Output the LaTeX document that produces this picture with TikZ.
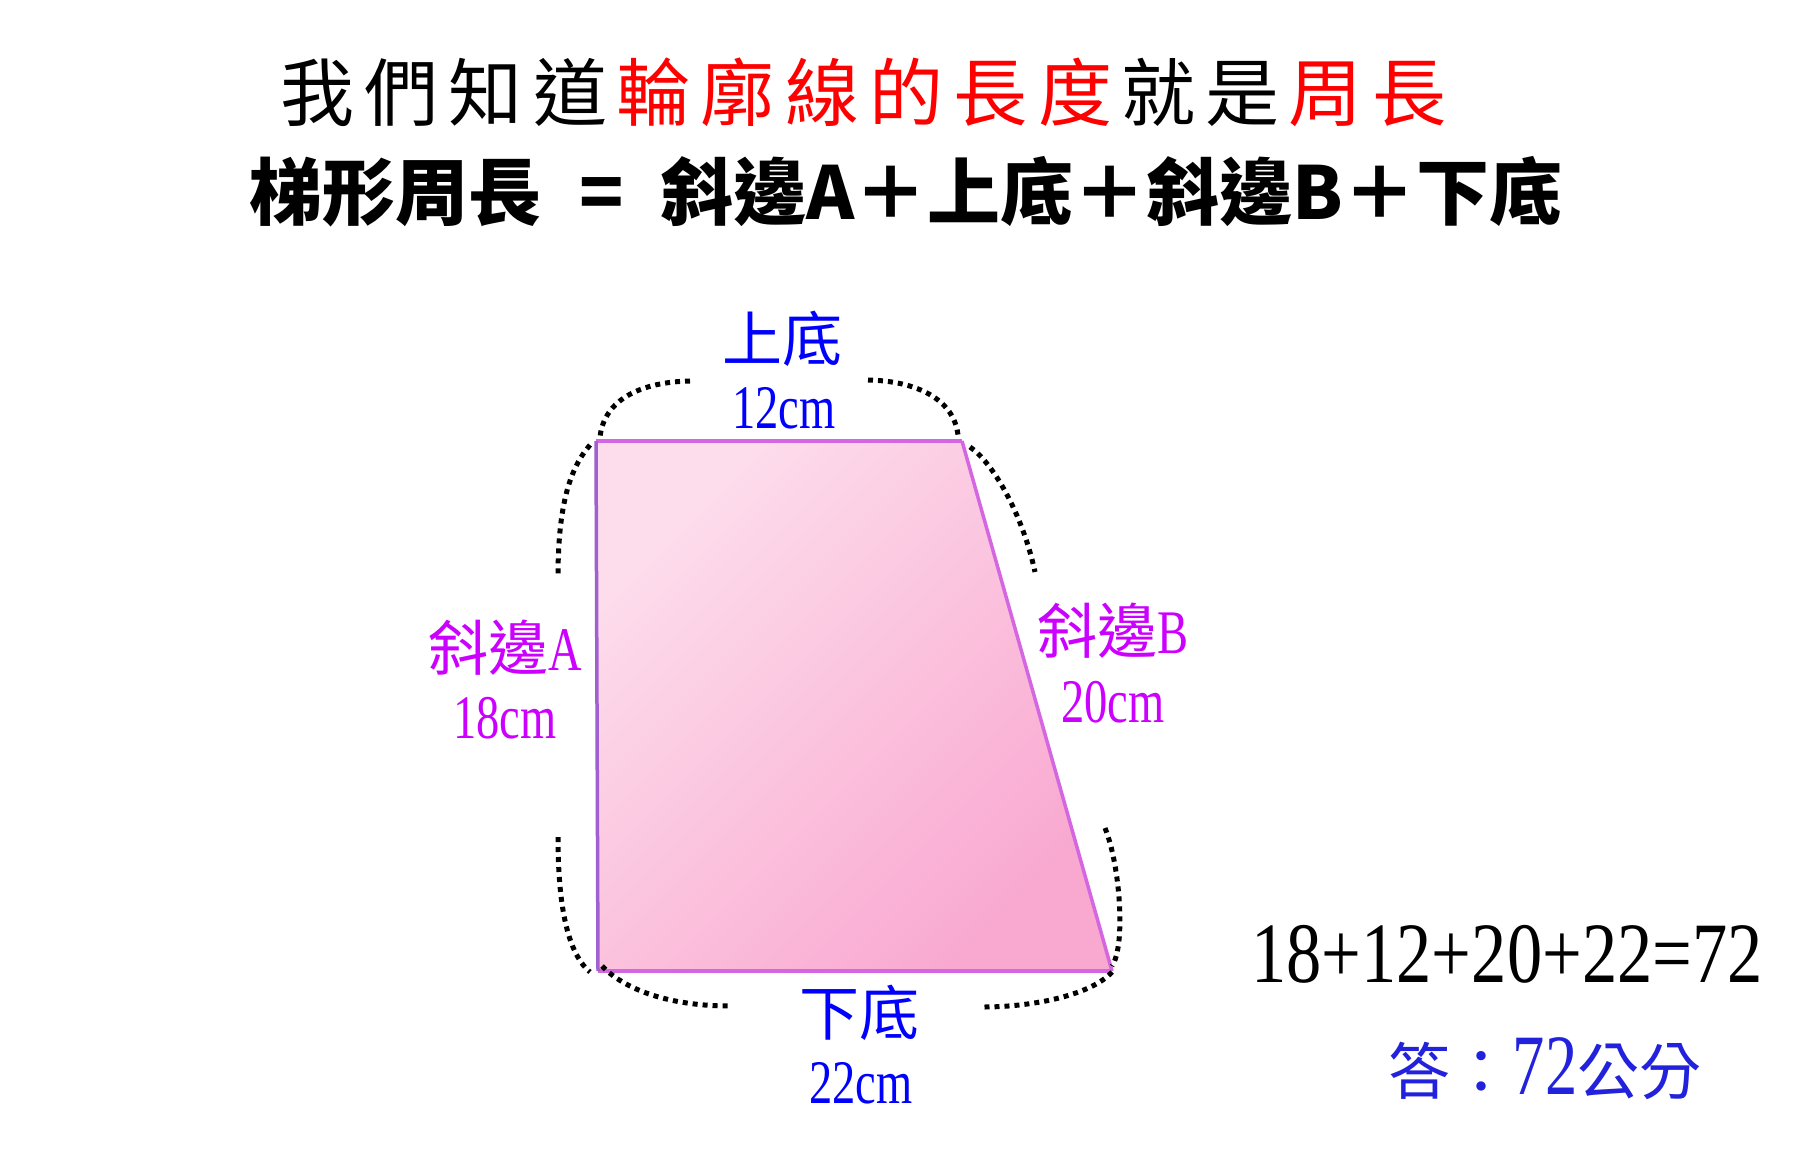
\documentclass[tikz,border=0pt]{standalone}
\usepackage{fontspec}
\newfontfamily\cjk{Noto Sans CJK TC}
\newfontfamily\cjkt{Noto Sans CJK TC}[LetterSpace=14]
\newfontfamily\latn{Liberation Serif}[FakeStretch=0.75]
\newfontfamily\eqf{Liberation Serif}[FakeStretch=0.82]
\definecolor{lblue}{HTML}{0000FF}
\definecolor{lmag}{HTML}{CC00FF}
\definecolor{ansblue}{HTML}{2222DD}
\definecolor{tred}{HTML}{FF0000}
\definecolor{pinkA}{HTML}{FDDDEC}
\definecolor{pinkB}{HTML}{F9A8D0}
\definecolor{edgeM}{HTML}{D466E2}
\definecolor{edgeV}{HTML}{A060D0}
\tikzset{
  lbl/.style={inner sep=0pt, anchor=base},
  dotline/.style={black, line width=5pt, dash pattern=on 5pt off 5pt, line cap=butt},
  edge/.style={line width=3.5pt, edgeM},
}
\newcommand{\fs}[1]{\fontsize{#1}{#1}\selectfont}
\begin{document}
\begin{tikzpicture}[x=1pt,y=-1pt]
\useasboundingbox (0,0) rectangle (1814,1149);
\fill[white] (0,0) rectangle (1814,1149);

% titles
\node[inner sep=0pt, anchor=base west] (t1) at (280,120)
  {\fs{74}\cjkt 我們知道\kern9pt\textcolor{tred}{輪廓線的長度}\kern9pt就是\kern9pt\textcolor{tred}{周長}};
\node[inner sep=0pt, anchor=base west] (t2a) at (249,219)
  {\fs{73}\cjk\bfseries 梯形周長};
\node[inner sep=0pt, anchor=base] (t2b) at (602,219)
  {\fs{73}\cjk\bfseries =};
\node[inner sep=0pt, anchor=base west] (t2c) at (660,219)
  {\fs{73}\cjk\bfseries 斜邊A＋上底＋斜邊B＋下底};

% trapezoid
\coordinate (TL) at (596,441);
\coordinate (TR) at (962,441);
\coordinate (BR) at (1112,971);
\coordinate (BL) at (598,971);
\shade[top color=pinkA, bottom color=pinkB, shading angle=45]
  (TL) -- (TR) -- (BR) -- (BL) -- cycle;
\draw[edge] (TL) -- (TR);
\draw[edge] (TR) -- (BR);
\draw[edge] (BR) -- (BL);
\draw[line width=3.5pt, edgeV] (BL) -- (TL);

% dotted brackets
\coordinate (a1) at (690,381);  \coordinate (a2) at (600,437);
\coordinate (b1) at (868,380);  \coordinate (b2) at (958,435);
\coordinate (c1) at (590,445);  \coordinate (c2) at (558,577);
\coordinate (d1) at (558,837);  \coordinate (d2) at (590,972);
\coordinate (e1) at (602,966);  \coordinate (e2) at (730,1006);
\coordinate (f1) at (970,447);  \coordinate (f2) at (1035,572);
\coordinate (g1) at (1105,828); \coordinate (g2) at (1112,966);
\coordinate (h1) at (1112,972); \coordinate (h2) at (983,1007);
\draw[dotline] (a1) .. controls (640,382) and (604,400) .. (a2);
\draw[dotline] (b1) .. controls (918,381) and (954,400) .. (b2);
\draw[dotline] (c1) .. controls (570,468) and (558,505) .. (c2);
\draw[dotline] (d1) .. controls (558,900) and (566,952) .. (d2);
\draw[dotline] (e1) .. controls (625,990) and (670,1006) .. (e2);
\draw[dotline] (f1) .. controls (992,462) and (1022,512) .. (f2);
\draw[dotline] (g1) .. controls (1120,865) and (1126,945) .. (g2);
\draw[dotline] (h1) .. controls (1090,996) and (1030,1007) .. (h2);

% labels
\node[lbl, lblue] (top1) at (782,361) {\fs{60}\cjk 上底};
\node[lbl, lblue] (top2) at (784,428) {\fs{62}\latn 12cm};
\node[lbl, lmag] (la1) at (505,670) {\fs{60}\cjk 斜邊{\latn\fs{62}A}};
\node[lbl, lmag] (la2) at (505,738) {\fs{62}\latn 18cm};
\node[lbl, lmag] (lb1) at (1113,653) {\fs{60}\cjk 斜邊{\latn\fs{62}B}};
\node[lbl, lmag] (lb2) at (1113,722) {\fs{62}\latn 20cm};
\node[lbl, lblue] (bt1) at (859,1035) {\fs{60}\cjk 下底};
\node[lbl, lblue] (bt2) at (861,1103) {\fs{62}\latn 22cm};

% equation and answer
\node[lbl, black] (eq) at (1507,982) {\fs{86}\eqf 18+12+20+22=72};
\node[lbl, ansblue] (ans) at (1545,1094)
  {\fs{62}\cjk 答：{\latn\fs{86}72}公分};
\end{tikzpicture}
\end{document}
